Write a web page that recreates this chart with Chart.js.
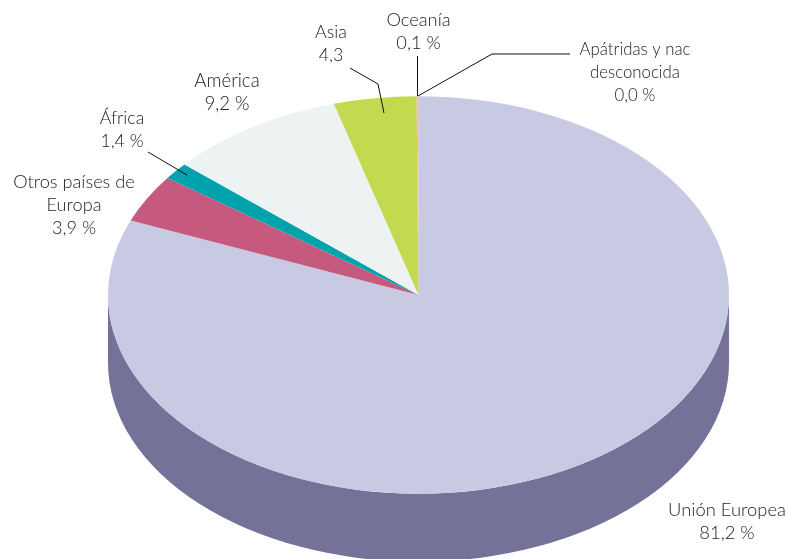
<!DOCTYPE html>
<html><head><meta charset="utf-8">
<style>html,body{margin:0;padding:0;background:#fff;overflow:hidden}canvas{display:block}</style>
<script src="https://cdn.jsdelivr.net/npm/chart.js@4"></script></head>
<body><canvas id="c" width="789" height="559"></canvas>
<script>
const categories=["Unión Europea","Otros países de Europa","África","América","Asia","Oceanía","Apátridas y nac desconocida"];
const values=[81.2,3.9,1.4,9.2,4.3,0.1,0.0];
const topColors=["#c8cae4","#c65a7e","#00a3ab","#edf3f3","#c3d94f","#f0b8a8","#c8cae4"];
const sideColors=["#757299","#8a3f58","#007278","#a6aaaa","#889838","#a88070","#757299"];
const labelLines=[["Unión Europea","81,2 %"],["Otros países de","Europa","3,9 %"],["África","1,4 %"],["América","9,2 %"],["Asia","4,3"],["Oceanía","0,1 %"],["Apátridas y nac","desconocida","0,0 %"]];
const labelAnchors=[[727,510],[74,182],[122,118],[227,81],[331,32],[418.5,20],[635,50]];
const labelFonts=['300 18.4px Lato','300 18.2px Lato','300 17.8px Lato','300 18.6px Lato','300 17.8px Lato','300 18.3px Lato','300 16.8px Lato'];
const leaders=[[[148,152],[187,175]],[[350,68],[378,84],[384,113]],[[417.5,56],[417.5,96]],[[570,54],[492,54],[418,96]]];
const YSCALE=0.64,DEPTH=68;
const pie3d={id:'pie3d',
 beforeDatasetsDraw(chart){
  const ctx=chart.ctx;const arcs=chart.getDatasetMeta(0).data;
  const a0=arcs[0];const cx=a0.x,cy=a0.y,r=a0.outerRadius;
  ctx.save();
  arcs.forEach((a,i)=>{
   for(const k of [0,2*Math.PI,-2*Math.PI]){
     const st=Math.max(a.startAngle+k,0),en=Math.min(a.endAngle+k,Math.PI);
     if(en>st){
      ctx.beginPath();
      ctx.ellipse(cx,cy,r,r*YSCALE,0,st,en,false);
      ctx.ellipse(cx,cy+DEPTH,r,r*YSCALE,0,en,st,true);
      ctx.closePath();
      ctx.fillStyle=sideColors[i];ctx.fill();
     }
   }
  });
  ctx.restore();
  ctx.save();
  ctx.translate(cx,cy);ctx.scale(1,YSCALE);ctx.translate(-cx,-cy);
 },
 afterDatasetsDraw(chart){
  const ctx=chart.ctx;ctx.restore();
  ctx.save();
  ctx.strokeStyle='#111';ctx.lineWidth=1;
  leaders.forEach(l=>{ctx.beginPath();l.forEach((p,i)=>i?ctx.lineTo(p[0],p[1]):ctx.moveTo(p[0],p[1]));ctx.stroke();});
  ctx.fillStyle='#222';ctx.textAlign='center';ctx.textBaseline='middle';
  labelLines.forEach((lines,i)=>{ctx.font=labelFonts[i];lines.forEach((t,j)=>ctx.fillText(t,labelAnchors[i][0],labelAnchors[i][1]+j*23));});
  ctx.restore();
 }};
new Chart(document.getElementById('c'),{type:'pie',
 data:{labels:categories,datasets:[{data:values,backgroundColor:topColors,borderWidth:0,hoverOffset:0}]},
 options:{responsive:false,animation:false,radius:310.5,rotation:0,
  layout:{padding:{left:48,top:31,right:0,bottom:0}},
  plugins:{legend:{display:false},tooltip:{enabled:false}}},
 plugins:[pie3d]});
</script></body></html>
